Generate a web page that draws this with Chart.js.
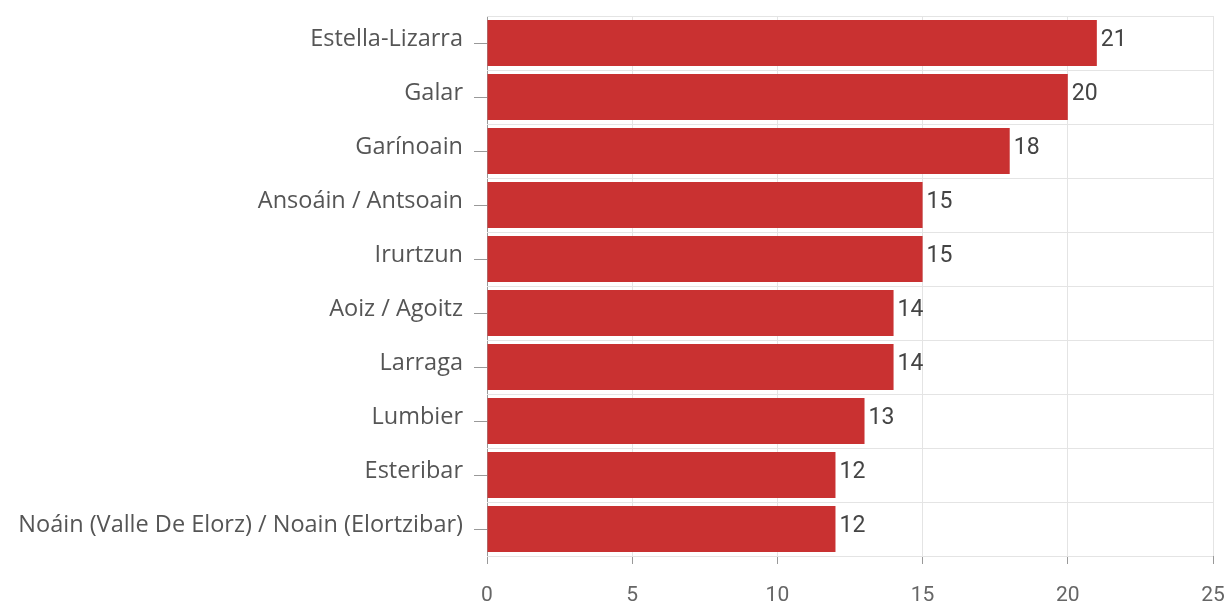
<!DOCTYPE html>
<html>
<head>
<meta charset="utf-8">
<script src="https://cdn.jsdelivr.net/npm/chart.js@4"></script>
<style>
    html, body { margin: 0; padding: 0; background: #fff; overflow: hidden; }
    #wrap { width: 1225px; height: 603px; }
</style>
</head>
<body>
<div id="wrap"><canvas id="chartPicture" width="1225" height="603"></canvas></div>
<script>
const municipalities = [
    "Estella-Lizarra",
    "Galar",
    "Garínoain",
    "Ansoáin / Antsoain",
    "Irurtzun",
    "Aoiz / Agoitz",
    "Larraga",
    "Lumbier",
    "Esteribar",
    "Noáin (Valle De Elorz) / Noain (Elortzibar)"
];
const counts = [21, 20, 18, 15, 15, 14, 14, 13, 12, 12];
const xTicks = [0, 5, 10, 15, 20, 25];

const barColor = "#c93131";
const gridColor = "#e4e4e4";

// value labels at the end of each bar
const barValueLabels =
{
    id: "barValueLabels",
    afterDatasetsDraw(chart)
    {
        const ctx = chart.ctx;
        const meta = chart.getDatasetMeta(0);
        ctx.save();
        ctx.font = "23px Roboto";
        ctx.fillStyle = "#444";
        ctx.textAlign = "left";
        ctx.textBaseline = "middle";
        meta.data.forEach((bar, i) =>
        {
            ctx.fillText(String(counts[i]), bar.x + 4, bar.y - 3);
        });
        ctx.restore();
    }
};

// horizontal lines between categories
const categoryLines =
{
    id: "categoryLines",
    beforeDatasetsDraw(chart)
    {
        const ctx = chart.ctx;
        const y = chart.scales.y;
        const area = chart.chartArea;
        const step = y.getPixelForValue(1) - y.getPixelForValue(0);
        ctx.save();
        ctx.strokeStyle = gridColor;
        ctx.lineWidth = 1;
        for(let i = 0; i <= municipalities.length; i++)
        {
            const py = Math.round(y.getPixelForValue(i) - step / 2) + 0.5;
            ctx.beginPath();
            ctx.moveTo(area.left, py);
            ctx.lineTo(area.right, py);
            ctx.stroke();
        }
        ctx.restore();
    }
};

const context = document.getElementById("chartPicture");

const configObject =
{
    type: "bar",
    data:
    {
        labels: municipalities,
        datasets:
        [
            {
                label: "Municipios",
                data: counts,
                backgroundColor: barColor,
                borderWidth: 0,
                barPercentage: 0.85,
                categoryPercentage: 1
            }
        ]
    },
    options:
    {
        responsive: false,
        animation: false,
        indexAxis: "y",
        layout:
        {
            padding: { top: 16, right: 0, bottom: 0, left: 0 }
        },
        plugins:
        {
            legend: { display: false },
            tooltip: { enabled: false }
        },
        scales:
        {
            x:
            {
                min: 0,
                max: 25,
                afterBuildTicks: (scale) =>
                {
                    scale.ticks = xTicks.map(v => ({ value: v }));
                },
                afterFit: (scale) =>
                {
                    scale.height = 47;
                    scale.paddingRight = 12;
                    scale.paddingLeft = 0;
                },
                grid:
                {
                    color: gridColor,
                    tickColor: "#999",
                    tickLength: 8
                },
                border: { color: "#999" },
                ticks:
                {
                    color: "#666",
                    font: { family: "Roboto", size: 21 },
                    padding: 19
                }
            },
            y:
            {
                afterFit: (scale) =>
                {
                    scale.width = 487;
                    scale.paddingTop = 0;
                    scale.paddingBottom = 0;
                },
                grid:
                {
                    offset: false,
                    drawOnChartArea: false,
                    tickColor: "#999",
                    tickLength: 13
                },
                border: { color: "#999" },
                ticks:
                {
                    color: "#555",
                    font: { family: "Open Sans", size: 23.5 },
                    padding: 11,
                    labelOffset: -4
                }
            }
        }
    },
    plugins: [categoryLines, barValueLabels]
};

const myChart = new Chart(context, configObject);
</script>
</body>
</html>
